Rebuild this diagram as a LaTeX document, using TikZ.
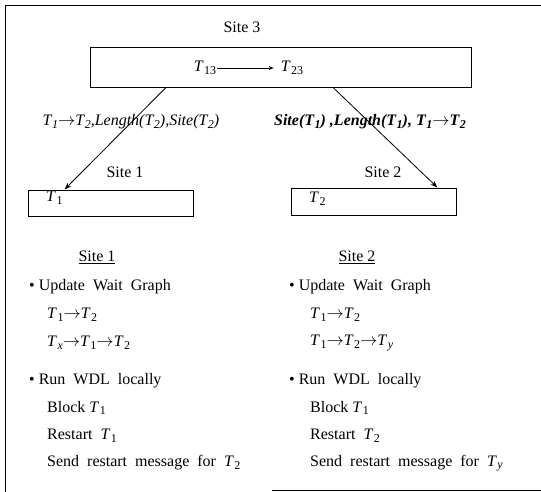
\documentclass[tikz,border=0pt]{standalone}
\usepackage{fontspec}
\setmainfont{Liberation Serif}
\usetikzlibrary{arrows.meta}
\newcommand\Tsub[1]{\textit{T}\kern0.5pt\raisebox{-0.35ex}{\fontsize{12}{12}\selectfont #1}}
\newcommand\ar{$\rightarrow$}
\begin{document}
\begin{tikzpicture}[x=1pt,y=-1pt,
  font=\fontsize{16}{18}\selectfont,
  every node/.style={inner sep=0pt},
  sitebox/.style={draw, line width=0.9pt, inner sep=0pt},
  txt/.style={anchor=west},
  link/.style={line width=0.8pt, -{Stealth[length=7pt,width=5pt]}},
  frame/.style={line width=0.9pt}]
\useasboundingbox (0,0) rectangle (541,492);
\draw[frame] (541,5) -- (5,5) -- (5,492);
\draw[frame] (272,490) -- (541,490);

% Site 3
\node (l3) at (242,27) {Site 3};
\node[sitebox, minimum width=381pt, minimum height=40pt] (s3) at (280.5,67) {};
\node (t13) at (205,68) {\Tsub{13}};
\node (t23) at (292,68) {\Tsub{23}};
\draw[line width=0.7pt, -{Stealth[length=5pt,width=4pt]}, shorten <=1pt, shorten >=7pt] (t13) -- (t23);

% Site 1 and 2 boxes
\node[sitebox, minimum width=165pt, minimum height=26pt] (s1) at (110.5,203) {};
\node[sitebox, minimum width=165pt, minimum height=27pt] (s2) at (373.5,201.5) {};
\node[txt] (t1) at (46,198) {\Tsub{1}};
\node[txt] (t2) at (309,199) {\Tsub{2}};
\node (l1) at (125,172) {Site 1};
\node (l2) at (383,172) {Site 2};

% arrows
\draw[link] ([xshift=-114.5pt]s3.south) -- ([xshift=37pt]s1.north west);
\draw[link] ([xshift=52.5pt]s3.south) -- ([xshift=-19pt]s2.north east);

% arrow labels
\node (lab1) at (131,122) {\itshape\Tsub{1}\ar\Tsub{2},Length(\Tsub{2}),Site(\Tsub{2})};
\node (lab2) at (370,122) {\bfseries\itshape Site(\Tsub{1}) ,Length(\Tsub{1}), \Tsub{1}\ar\Tsub{2}};

% Site 1 column
\node (h1) at (97,257) {\underline{Site 1}};
\node[txt] (a1) at (29,287) {\textbullet\ Update\ \ Wait\ \ Graph};
\node[txt] (a2) at (47,315) {\Tsub{1}\ar\Tsub{2}};
\node[txt] (a3) at (47,343) {\Tsub{\textit{x}}\ar\Tsub{1}\ar\Tsub{2}};
\node[txt] (a4) at (29,381) {\textbullet\ Run\ \ WDL\ \ locally};
\node[txt] (a5) at (47,408) {Block \Tsub{1}};
\node[txt] (a6) at (47,436) {Restart\ \ \Tsub{1}};
\node[txt] (a7) at (47,463) {Send\ \ restart\ \ message\ \ for\ \ \Tsub{2}};

% Site 2 column
\node (h2) at (357,257) {\underline{Site 2}};
\node[txt] (b1) at (289,287) {\textbullet\ Update\ \ Wait\ \ Graph};
\node[txt] (b2) at (310,315) {\Tsub{1}\ar\Tsub{2}};
\node[txt] (b3) at (310,343) {\Tsub{1}\ar\Tsub{2}\ar\Tsub{\textit{y}}};
\node[txt] (b4) at (289,381) {\textbullet\ Run\ \ WDL\ \ locally};
\node[txt] (b5) at (310,408) {Block \Tsub{1}};
\node[txt] (b6) at (310,436) {Restart\ \ \Tsub{2}};
\node[txt] (b7) at (310,463) {Send\ \ restart\ \ message\ \ for\ \ \Tsub{\textit{y}}};
\end{tikzpicture}
\end{document}
